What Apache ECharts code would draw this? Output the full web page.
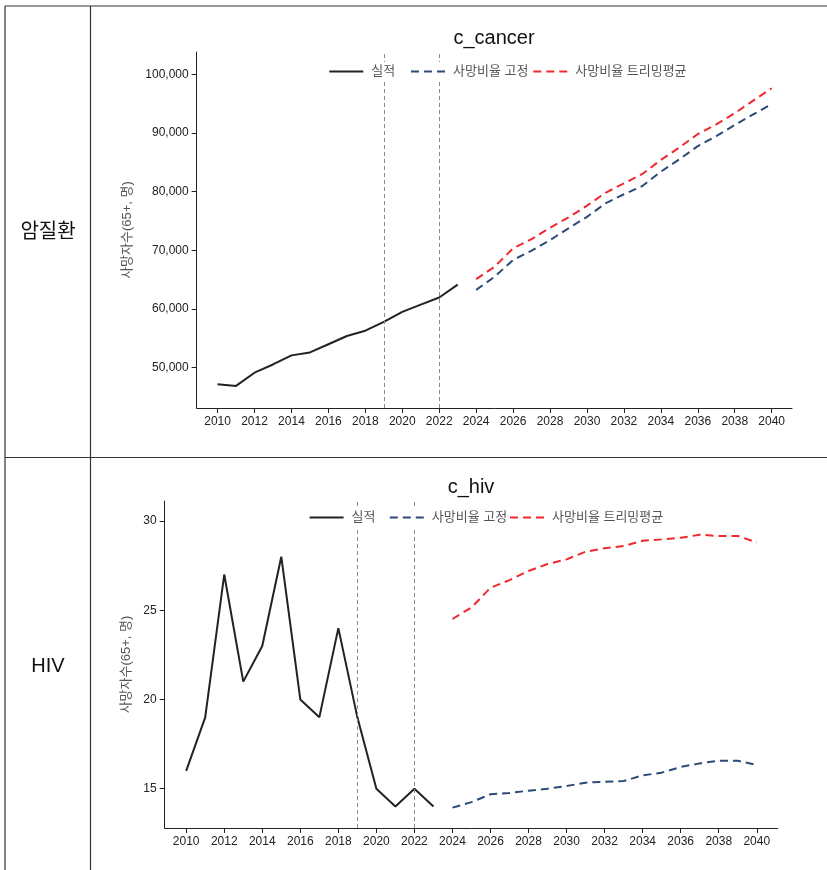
<!DOCTYPE html>
<html>
<head>
<meta charset="utf-8">
<script src="https://cdn.jsdelivr.net/npm/echarts@6/dist/echarts.min.js"></script>
<style>
html,body{margin:0;padding:0;background:#fff;}
#chart{width:827px;height:870px;}
</style>
</head>
<body>
<div id="chart"></div>
<script>
// ---- data ----
const yearsActual = [2010, 2011, 2012, 2013, 2014, 2015, 2016, 2017, 2018, 2019, 2020, 2021, 2022, 2023];
const yearsProj = [2024, 2025, 2026, 2027, 2028, 2029, 2030, 2031, 2032, 2033, 2034, 2035, 2036, 2037, 2038, 2039, 2040];

const cancerActual = [47200, 46900, 49150, 50550, 52100, 52600, 54000, 55400, 56300, 57800, 59500, 60750, 61950, 64150];
const cancerFixed = [63250, 65500, 68350, 69950, 71750, 73750, 75700, 78000, 79550, 80950, 83400, 85500, 87750, 89450, 91350, 93150, 94900];
const cancerTrim = [65100, 67200, 70350, 71900, 73850, 75600, 77600, 79800, 81400, 83000, 85400, 87500, 89800, 91450, 93350, 95500, 97600];

const hivActual = [16, 19, 27, 21, 23, 28, 20, 19, 24, 19, 15, 14, 15, 14];
const hivFixed = [13.94, 14.25, 14.69, 14.76, 14.89, 15.0, 15.15, 15.34, 15.39, 15.43, 15.75, 15.90, 16.22, 16.42, 16.57, 16.57, 16.33];
const hivTrim = [24.51, 25.16, 26.26, 26.69, 27.20, 27.59, 27.85, 28.28, 28.47, 28.60, 28.89, 28.97, 29.06, 29.23, 29.16, 29.16, 28.80];

const xTicks = [2010, 2012, 2014, 2016, 2018, 2020, 2022, 2024, 2026, 2028, 2030, 2032, 2034, 2036, 2038, 2040];
const cancerYTicks = [50000, 60000, 70000, 80000, 90000, 100000];
const hivYTicks = [15, 20, 25, 30];
const refYears = [2019, 2022];

const seriesNames = ['실적', '사망비율 고정', '사망비율 트리밍평균'];
const rowLabels = ['암질환', 'HIV'];
const chartTitles = ['c_cancer', 'c_hiv'];
const yAxisName = '사망자수(65+, 명)';

// ---- chart ----
const FONT = '"Liberation Sans", Arial, "Noto Sans CJK KR", sans-serif';
const KFONT = '"Liberation Sans", "Noto Sans CJK KR", sans-serif';
const COLORS = ['#222222', '#2c4a78', '#f0282d'];

function pairs(xs, ys) { return xs.map((x, i) => [x, ys[i]]); }

const grids = [
  { left: 196.7, right: 35, top: 52, bottom: 462 },
  { left: 164.7, right: 49.3, top: 501, bottom: 42 }
];
const yRanges = [[43135, 103780], [12.8, 31.12]];
const yTickSets = [cancerYTicks, hivYTicks];
const nameGaps = [63, 32];
const dataSets = [
  [cancerActual, cancerFixed, cancerTrim],
  [hivActual, hivFixed, hivTrim]
];

const xAxes = grids.map((g, i) => ({
  type: 'value', gridIndex: i, min: 2008.87, max: 2041.1,
  splitLine: { show: false },
  axisLine: { lineStyle: { color: '#222', width: 1 } },
  axisTick: { show: true, length: 5, lineStyle: { color: '#222' }, customValues: xTicks },
  axisLabel: { color: '#222', fontSize: 12, fontFamily: FONT, margin: 8, customValues: xTicks, formatter: v => String(v) }
}));

const yAxes = grids.map((g, i) => ({
  type: 'value', gridIndex: i, min: yRanges[i][0], max: yRanges[i][1],
  name: yAxisName, nameLocation: 'middle', nameGap: nameGaps[i],
  nameTextStyle: { color: '#555', fontSize: 13, fontFamily: KFONT },
  splitLine: { show: false },
  axisLine: { show: true, lineStyle: { color: '#222', width: 1 } },
  axisTick: { show: true, length: 5, lineStyle: { color: '#222' }, customValues: yTickSets[i] },
  axisLabel: { color: '#222', fontSize: 12, fontFamily: FONT, margin: 8, customValues: yTickSets[i],
    formatter: v => Number(v).toLocaleString('en-US') }
}));

const series = [];
dataSets.forEach((ds, gi) => {
  series.push({
    name: seriesNames[0], type: 'line', xAxisIndex: gi, yAxisIndex: gi,
    data: pairs(yearsActual, ds[0]), symbol: 'none', showSymbol: false,
    lineStyle: { color: COLORS[0], width: 2 }, itemStyle: { color: COLORS[0] },
    animation: false,
    markLine: {
      silent: true, symbol: ['none', 'none'], animation: false,
      label: { show: false },
      lineStyle: { color: '#8a8a8a', type: [4, 3], width: 1 },
      data: refYears.map(y => ({ xAxis: y }))
    }
  });
  series.push({
    name: seriesNames[1], type: 'line', xAxisIndex: gi, yAxisIndex: gi,
    data: pairs(yearsProj, ds[1]), symbol: 'none', showSymbol: false,
    lineStyle: { color: COLORS[1], width: 2, type: [8, 5] }, itemStyle: { color: COLORS[1] },
    animation: false
  });
  series.push({
    name: seriesNames[2], type: 'line', xAxisIndex: gi, yAxisIndex: gi,
    data: pairs(yearsProj, ds[2]), symbol: 'none', showSymbol: false,
    lineStyle: { color: COLORS[2], width: 2, type: [8, 5] }, itemStyle: { color: COLORS[2] },
    animation: false
  });
});

const legendPos = [
  { top: 62, lefts: [328.3, 410, 532.3] },
  { top: 508, lefts: [308.6, 388.8, 509] }
];
const legends = [];
legendPos.forEach(lp => {
  seriesNames.forEach((n, k) => {
    legends.push({
      data: [n], left: lp.lefts[k], top: lp.top,
      itemWidth: 34, itemHeight: 14, padding: [3, 0, 3, 0],
      backgroundColor: '#fff', selectedMode: false, z: 10,
      itemStyle: { opacity: 0 },
      lineStyle: { width: 2 },
      textStyle: { color: '#555', fontSize: 13, fontFamily: KFONT, padding: [0, 0, 0, 3] }
    });
  });
});

const LC = '#333';
const graphic = [
  { type: 'line', shape: { x1: 5, y1: 6, x2: 827, y2: 6 }, style: { stroke: LC, lineWidth: 1.2 } },
  { type: 'line', shape: { x1: 5, y1: 6, x2: 5, y2: 870 }, style: { stroke: LC, lineWidth: 1.2 } },
  { type: 'line', shape: { x1: 90.5, y1: 6, x2: 90.5, y2: 870 }, style: { stroke: LC, lineWidth: 1.2 } },
  { type: 'line', shape: { x1: 5, y1: 457.5, x2: 827, y2: 457.5 }, style: { stroke: LC, lineWidth: 1.2 } },
  { type: 'text', x: 48, y: 232, style: { text: rowLabels[0], fill: '#111', font: '20px ' + KFONT, align: 'center', verticalAlign: 'middle' } },
  { type: 'text', x: 48, y: 666, style: { text: rowLabels[1], fill: '#111', font: '20px ' + KFONT, align: 'center', verticalAlign: 'middle' } },
  { type: 'text', x: 494, y: 38.5, style: { text: chartTitles[0], fill: '#111', font: '20px ' + FONT, align: 'center', verticalAlign: 'middle' } },
  { type: 'text', x: 471, y: 487, style: { text: chartTitles[1], fill: '#111', font: '20px ' + FONT, align: 'center', verticalAlign: 'middle' } }
];

const chart = echarts.init(document.getElementById('chart'), null, { renderer: 'canvas' });
chart.setOption({
  animation: false,
  backgroundColor: '#fff',
  grid: grids,
  xAxis: xAxes,
  yAxis: yAxes,
  legend: legends,
  series: series,
  graphic: graphic
});
</script>
</body>
</html>
